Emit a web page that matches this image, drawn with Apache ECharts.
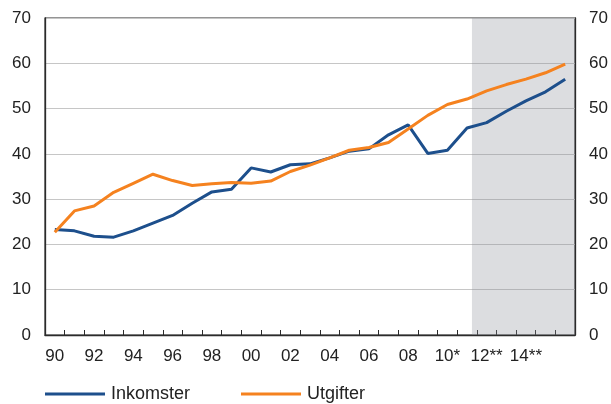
<!DOCTYPE html>
<html>
<head>
<meta charset="utf-8">
<script src="https://cdn.jsdelivr.net/npm/echarts@6/dist/echarts.min.js"></script>
<style>
  html, body { margin: 0; padding: 0; background: #fff; }
  #chart { width: 611px; height: 404px; }
</style>
</head>
<body>
<div id="chart"></div>
<script>
// Years on the horizontal axis
const years = [1990, 1991, 1992, 1993, 1994, 1995, 1996, 1997, 1998, 1999,
  2000, 2001, 2002, 2003, 2004, 2005, 2006, 2007, 2008, 2009,
  2010, 2011, 2012, 2013, 2014, 2015, 2016];

// Tick labels shown under the axis (every second year)
const yearLabels = ['90', '', '92', '', '94', '', '96', '', '98', '',
  '00', '', '02', '', '04', '', '06', '', '08', '',
  '10*', '', '12**', '', '14**', '', ''];

const inkomster = [23.3, 23.0, 21.8, 21.6, 23.0, 24.7, 26.4, 29.1, 31.6, 32.2,
  36.9, 36.0, 37.6, 37.8, 39.1, 40.6, 41.1, 44.2, 46.4, 40.1,
  40.8, 45.7, 46.9, 49.4, 51.7, 53.7, 56.5];

const utgifter = [22.7, 27.4, 28.5, 31.5, 33.5, 35.5, 34.1, 33.0, 33.4, 33.7,
  33.5, 34.0, 36.1, 37.5, 39.1, 40.8, 41.4, 42.5, 45.5, 48.5,
  50.9, 52.1, 53.9, 55.3, 56.5, 57.9, 59.8];

// Projection period (shaded)
const projectionStart = 2011.25;
const projectionEnd = 2016.5;

const yTicks = { min: 0, max: 70, interval: 10 };

const font = 'Liberation Sans, Arial, sans-serif';
const axisColor = '#2b2b2b';
const textColor = '#222';

const chart = echarts.init(document.getElementById('chart'), null, { renderer: 'canvas' });

const yAxisCommon = {
  type: 'value',
  min: yTicks.min,
  max: yTicks.max,
  interval: yTicks.interval,
  axisLine: { show: true, lineStyle: { color: axisColor, width: 1.3 } },
  axisTick: { show: false },
  axisLabel: { fontFamily: font, fontSize: 17, color: textColor, margin: 14 },
};

const legendCommon = {
  top: 385,
  padding: 0,
  icon: 'rect', itemWidth: 60, itemHeight: 3, itemGap: 0,
  textStyle: { fontFamily: font, fontSize: 18, color: textColor, padding: [0, 0, 0, 1] }
};

chart.setOption({
  animation: false,
  grid: {
    left: 45, right: 36, top: 18, bottom: 69,
    show: true, borderColor: axisColor, borderWidth: 1.2
  },
  legend: [
    Object.assign({ data: ['Inkomster'], left: 45 }, legendCommon),
    Object.assign({ data: ['Utgifter'], left: 241 }, legendCommon)
  ],
  xAxis: [
    {
      type: 'category',
      data: years,
      boundaryGap: true,
      axisLine: { show: true, lineStyle: { color: axisColor, width: 1.3 } },
      axisTick: { show: true, inside: true, length: 5, interval: 0, lineStyle: { color: axisColor } },
      axisLabel: {
        interval: 0,
        fontFamily: font, fontSize: 17, color: textColor, margin: 13,
        formatter: (v, i) => yearLabels[i]
      },
      splitLine: { show: false }
    },
    {
      type: 'value',
      min: years[0] - 0.5,
      max: years[years.length - 1] + 0.5,
      show: false
    }
  ],
  yAxis: [
    Object.assign({}, yAxisCommon, {
      position: 'left',
      splitLine: { show: true, lineStyle: { color: '#c6c6c6', width: 1 } }
    }),
    Object.assign({}, yAxisCommon, {
      position: 'right',
      splitLine: { show: false }
    })
  ],
  series: [
    {
      name: 'Inkomster',
      type: 'line',
      data: inkomster,
      symbol: 'none',
      z: 2,
      lineStyle: { color: '#1d4f8c', width: 3 },
      itemStyle: { color: '#1d4f8c' }
    },
    {
      name: 'Utgifter',
      type: 'line',
      data: utgifter,
      symbol: 'none',
      z: 2,
      lineStyle: { color: '#f5821f', width: 3 },
      itemStyle: { color: '#f5821f' }
    },
    {
      name: 'projection',
      type: 'line',
      xAxisIndex: 1,
      yAxisIndex: 0,
      data: [],
      z: 5,
      silent: true,
      markArea: {
        silent: true,
        itemStyle: { color: 'rgba(138,142,152,0.3)' },
        data: [[
          { xAxis: projectionStart, yAxis: yTicks.min },
          { xAxis: projectionEnd, yAxis: yTicks.max }
        ]]
      }
    }
  ]
});
</script>
</body>
</html>
